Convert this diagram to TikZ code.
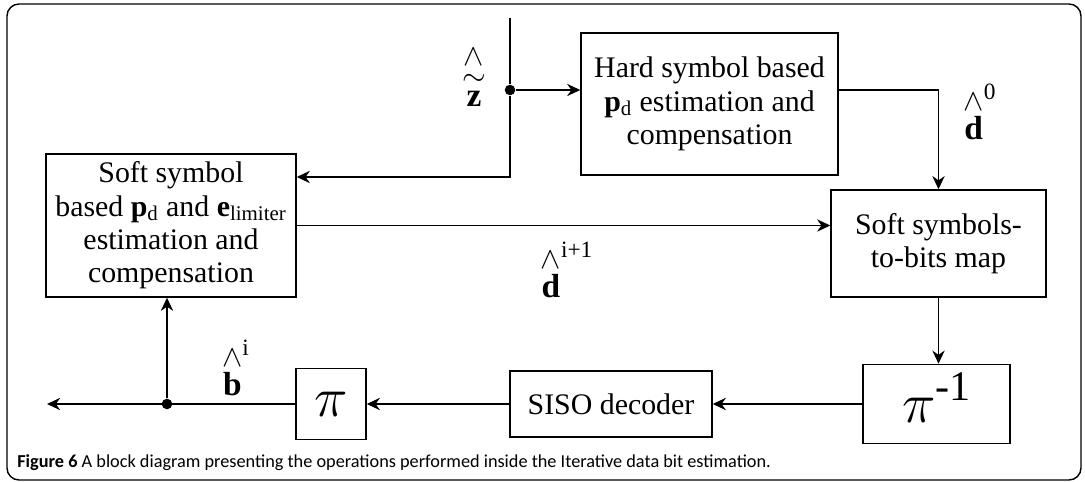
\documentclass[tikz,border=0pt]{standalone}
\usepackage{amsmath}
\usepackage{graphicx}
\usepackage{fontspec}
\setmainfont{Liberation Serif}
\newfontfamily\capfont{Carlito}
\usetikzlibrary{arrows.meta,calc,positioning}

\begin{document}
\begin{tikzpicture}[x=0.02cm,y=-0.02cm,>={Stealth[length=7.5pt,width=7pt]},
  blk/.style={draw,line width=0.85pt,align=center,inner sep=0pt,font=\fontsize{17}{19}\selectfont},
  lnk/.style={->,line width=0.85pt},
  lbl/.style={font=\fontsize{19}{20}\selectfont,inner sep=0pt},
  dot/.style={circle,fill,inner sep=0pt,minimum size=6pt}]
  \useasboundingbox (0,0) rectangle (1085,482);
  \draw[line width=0.8pt,rounded corners=0.24cm] (7,4) rectangle (1081,480);

  % blocks
  \node[blk,minimum width=5.14cm,minimum height=2.84cm] (hard) at (709.5,104)
    {Hard symbol based\\\textbf{p}\textsubscript{d} estimation and\\compensation};
  \node[blk,minimum width=5cm,minimum height=2.86cm] (soft) at (171,225.5)
    {Soft symbol\\based \textbf{p}\textsubscript{d} and \textbf{e}\textsubscript{limiter}\\estimation and\\compensation};
  \node[blk,minimum width=4.3cm,minimum height=2.14cm] (map) at (938.5,243.5)
    {Soft symbols-\\to-bits map};
  \node[blk,minimum width=2.94cm,minimum height=1.58cm,font=\fontsize{20}{20}\selectfont] (pinv) at (936.5,404)
    {\rule[-7pt]{0pt}{7pt}\scalebox{1.55}{$\pi$}\raisebox{0.62em}{\fontsize{24}{24}\selectfont -1}};
  \node[blk,minimum width=4.04cm,minimum height=1.32cm] (siso) at (611,404) {SISO decoder};
  \node[blk,minimum width=1.4cm,minimum height=1.42cm,font=\fontsize{20}{20}\selectfont] (pi) at (331,404)
    {\scalebox{1.55}{$\pi$}};

  % points
  \coordinate (ztop) at (510,18);
  \node[dot] (zdot) at (510,90) {};
  \coordinate (zbend) at (510,177);
  \coordinate (dbend) at (938,90);
  \node[dot] (bdot) at (167,404) {};
  \coordinate (out) at (47,404);

  % connectors
  \draw[line width=0.85pt] (ztop) -- (zdot);
  \draw[lnk] (zdot) -- (zdot -| hard.west);
  \draw[lnk] (zdot) -- (zbend) -- (zbend -| soft.east);
  \draw[lnk] (hard.east |- dbend) -| (map.north);
  \draw[lnk] (soft.east) -- (soft.east -| map.west);
  \draw[lnk] (map.south) -- (map.south |- pinv.north);
  \draw[lnk] (pinv.west) -- (siso.east);
  \draw[lnk] (siso.west) -- (pi.east);
  \draw[lnk] (pi.west) -- (out);
  \draw[lnk] (bdot) -- (bdot |- soft.south);

  % labels
  \node[lbl] (zlbl) at (474,76) {$\overset{\textstyle\wedge}{\overset{\textstyle\sim}{\textbf{z}}}$};
  \node[lbl] (d0) at (980,112) {$\overset{\textstyle\wedge}{\textbf{d}}^{\textrm{0}}$};
  \node[lbl] (di) at (567,270) {$\overset{\textstyle\wedge}{\textbf{d}}^{\textrm{i+1}}$};
  \node[lbl] (bi) at (236,368) {$\overset{\textstyle\wedge}{\textbf{b}}^{\textrm{i}}$};

  \node[anchor=base west,inner sep=0pt,font=\capfont\fontsize{10.4}{12}\selectfont] (cap) at (17,468)
    {\textbf{Figure 6} A block diagram presenting the operations performed inside the Iterative data bit estimation.};
\end{tikzpicture}
\end{document}
